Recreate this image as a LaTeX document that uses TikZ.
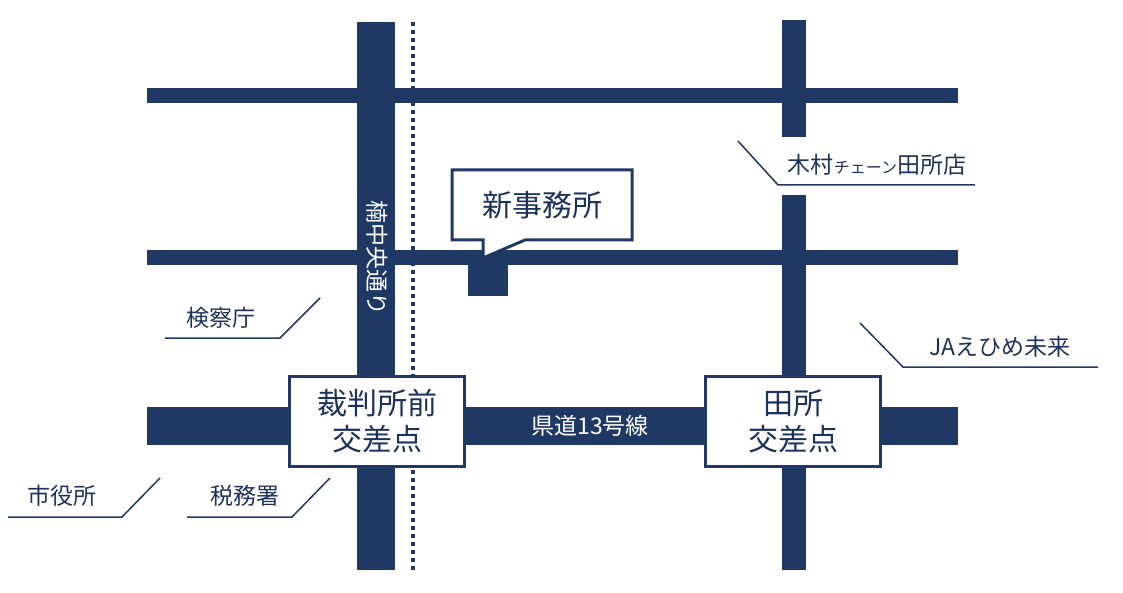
\documentclass[tikz,border=0pt]{standalone}
\usepackage{fontspec}
\setmainfont{Noto Sans CJK JP}
\definecolor{navy}{HTML}{203864}
\tikzset{road/.style={fill=navy,draw=none},
box/.style={draw=navy,line width=3pt,fill=white,align=center,font=\fontsize{30}{36}\selectfont,text=navy!90!black},
lbl/.style={font=\fontsize{23}{26}\selectfont,text=navy!90!black,inner sep=0pt},
lead/.style={draw=navy,line width=1.5pt}}
\begin{document}
\begin{tikzpicture}[x=1pt,y=-1pt]
\useasboundingbox (0,0) rectangle (1123,593);
% roads
\fill[road] (147,88) rectangle (958,103);
\fill[road] (147,250) rectangle (958,265);
\fill[road] (147,407) rectangle (958,445);
\fill[road] (357,22) rectangle (395,570);
\fill[road] (782,20) rectangle (806,137);
\fill[road] (782,195) rectangle (806,570);
\draw[navy,line width=3.5pt,dash pattern=on 4pt off 4pt] (413,22) -- (413,570);
% building
\fill[road] (468,262) rectangle (508,296);
% callout
\filldraw[draw=navy,fill=white,line width=3pt] (452,170) -- (632,170) -- (632,240) -- (525,240) -- (483,258) -- (483,240) -- (452,240) -- cycle;
\node[lbl,font=\fontsize{30}{34}\selectfont] (new) at (542,205) {新事務所};
% road labels
\node[lbl,text=white] (ken) at (590,426) {県道13号線};
\node[lbl,text=white,rotate=-90] (kusu) at (377,258) {楠中央通り};
% intersection boxes
\node[box,minimum width=175pt,minimum height=90pt] (saiban) at (377,421) {裁判所前\\交差点};
\node[box,minimum width=175pt,minimum height=90pt] (tado) at (793,421) {田所\\交差点};
% leader labels
\coordinate (k1) at (738,141); \coordinate (k2) at (778,185); \coordinate (k3) at (975,185);
\draw[lead] (k1) -- (k2) -- (k3);
\node[lbl] (kimura) at (877,165) {木村{\fontsize{16}{18}\selectfont チェーン}田所店};
\coordinate (e1) at (165,338); \coordinate (e2) at (280,338); \coordinate (e3) at (320,298);
\draw[lead] (e1) -- (e2) -- (e3);
\node[lbl] (kensatsu) at (221,318) {検察庁};
\coordinate (j1) at (860,323); \coordinate (j2) at (903,367); \coordinate (j3) at (1098,367);
\draw[lead] (j1) -- (j2) -- (j3);
\node[lbl] (ja) at (1000,347) {JAえひめ未来};
\coordinate (s1) at (8,517); \coordinate (s2) at (122,517); \coordinate (s3) at (160,478);
\draw[lead] (s1) -- (s2) -- (s3);
\node[lbl] (shi) at (62,496) {市役所};
\coordinate (z1) at (187,517); \coordinate (z2) at (292,517); \coordinate (z3) at (330,478);
\draw[lead] (z1) -- (z2) -- (z3);
\node[lbl] (zei) at (245,496) {税務署};
\end{tikzpicture}
\end{document}
